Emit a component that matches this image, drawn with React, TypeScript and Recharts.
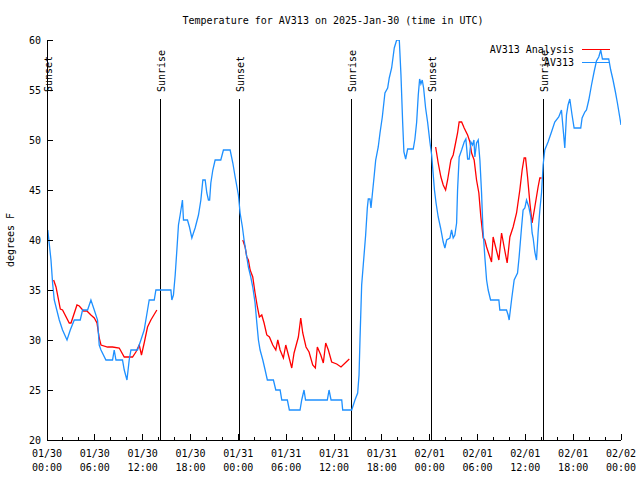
import React from "react";
import { LineChart, Line, XAxis, YAxis, ReferenceLine } from "recharts";

// observed temperature (AV313), hours since 01/30 00:00 UTC
const obsHours = [
  0, 0.1, 0.5, 0.7, 0.91, 1.54, 1.95, 2.51, 2.92, 3.42, 4.17, 4.46, 5.09, 5.51, 5.93, 6.34, 6.55, 6.77,
  7.39, 8.22, 8.43, 8.65, 9.47, 9.69, 10.03, 10.31, 10.53, 11.35, 11.78, 12.19, 12.61, 12.82, 13.45, 13.66,
  15.54, 15.66, 15.86, 16.08, 16.29, 16.49, 16.7, 16.99, 17.12, 17.62, 17.87, 18.17, 18.37, 18.58, 19, 19.3,
  19.55, 19.84, 20.05, 20.25, 20.4, 20.55, 20.8, 21.09, 21.8, 22.13, 22.97, 23.31, 23.6, 24.01, 24.22, 24.51,
  24.72, 25.06, 25.26, 25.56, 25.81, 26.1, 26.32, 26.52, 26.73, 27.07, 27.36, 27.64, 28.4, 28.7, 29.24, 29.45,
  30.15, 30.4, 31.74, 31.95, 32.24, 32.43, 35.16, 35.38, 35.63, 36.97, 37.09, 38.22, 38.51, 38.63, 38.97, 39.14,
  39.26, 39.47, 39.67, 39.97, 40.18, 40.3, 40.51, 40.64, 40.8, 41.05, 41.23, 41.55, 41.77, 42.06, 42.39, 42.73,
  42.93, 43.23, 43.56, 43.86, 44.19, 44.4, 44.61, 44.77, 44.99, 45.24, 45.94, 46.15, 46.37, 46.57, 46.74, 46.9,
  47.07, 47.24, 47.49, 47.74, 48.03, 48.25, 48.45, 48.6, 48.8, 49.07, 49.37, 49.7, 49.91, 50.13, 50.54, 50.75,
  50.95, 51.16, 51.38, 51.5, 51.7, 52.01, 52.33, 52.54, 52.76, 52.96, 53.17, 53.38, 53.55, 53.67, 53.88, 54.09,
  54.3, 54.51, 54.67, 54.92, 55.14, 55.34, 55.64, 56.68, 56.8, 57.64, 57.84, 57.97, 58.27, 58.6, 59.02, 59.22,
  59.52, 59.72, 59.94, 60.15, 60.44, 60.69, 60.85, 60.98, 61.19, 61.4, 61.6, 61.82, 62.03, 62.23, 62.44, 62.85,
  63.28, 63.69, 64.19, 64.53, 64.73, 64.95, 65.16, 65.36, 65.58, 65.86, 66.12, 66.95, 67.12, 67.46, 67.67, 67.96,
  68.3, 68.62, 68.92, 69.21, 69.46, 69.67, 70.46, 70.71, 71, 71.3, 71.55, 71.84, 72,
];
const obsTemps = [
  40.5, 41, 38, 35.7, 34, 32, 31, 30, 31, 32, 32, 33, 33, 34, 33, 32, 29.5, 29,
  28, 28, 29, 28, 28, 27, 26, 28, 29, 29, 30, 31, 33, 34, 34, 35,
  35, 34, 34.5, 36.5, 39, 41.5, 42.5, 44, 42, 42, 41.3, 40.2, 40.7, 41.2, 42.5, 44,
  46, 46, 44.7, 44, 44, 45.7, 47, 48, 48, 49, 49, 47.7, 46.3, 44.5, 42.7, 41.3,
  40, 38.3, 37.3, 36.3, 35.3, 33.7, 31.7, 30, 29, 28, 27, 26, 26, 25, 25, 24,
  24, 23, 23, 24, 25, 24, 24, 25, 24, 24, 23, 23, 23.7, 24, 24.7, 26.5,
  30, 35.5, 37.5, 40.5, 43.2, 44.1, 44.1, 43.2, 44.5, 46.5, 48, 49.3, 50.7, 52.3, 54.7, 55.2,
  56.2, 57.2, 59.2, 60, 60, 56.5, 51.8, 48.8, 48.1, 49.1, 49.1, 50.1, 51.8, 54.5, 56.1, 55.6,
  56, 55.2, 53.2, 51.8, 49.8, 48.5, 46.5, 45, 43.7, 42.3, 41.2, 39.8, 39.2, 40, 40.2, 41,
  40.2, 40.5, 41.7, 45, 48.3, 49, 49.8, 50.1, 48.1, 48.1, 49.8, 49.5, 50, 48.3, 49.7, 50,
  48, 44.7, 41.3, 38.3, 36, 35, 34, 34, 33, 33, 32.5, 32, 34, 36, 36.7, 38.3,
  41.2, 43, 43.2, 44, 43.3, 42.3, 40.7, 40.2, 38.8, 38, 40.7, 43, 44.7, 47.5, 49, 49.8,
  50.8, 51.8, 52.3, 53, 51.2, 49.2, 52.5, 53.5, 54.1, 52.5, 51.2, 51.2, 52.2, 52.8, 53, 54,
  55.5, 56.8, 57.9, 58.3, 59, 58.1, 58.1, 57, 56, 54.8, 53.7, 52.3, 51.5,
];

// analysis temperature (AV313 Analysis), null = no analysis
const anaHours = [
  0.83, 1.13, 1.67, 1.95, 2.79, 3.01, 3.76, 4.05, 4.59, 5.01, 5.51, 5.93, 6.27, 6.55, 6.77, 7.59, 8.22, 9.06,
  9.69, 10.73, 11.15, 11.57, 11.85, 12.19, 12.61, 13.03, 13.78, 14,
  24.56, 24.85, 25.06, 25.26, 25.48, 25.81, 26.1, 26.39, 26.64, 26.94, 27.23, 27.57, 27.9, 28.32, 28.7, 28.95,
  29.24, 29.65, 29.95, 30.28, 30.7, 30.99, 31.53, 31.83, 32.08, 32.49, 32.87, 33.33, 33.66, 33.91, 34.34, 34.66,
  34.96, 35.29, 35.71, 36.34, 36.88, 37.92, 38.5,
  48.75, 49.07, 49.41, 49.7, 50, 50.25, 50.66, 50.95, 51.25, 51.5, 51.7, 52.01, 52.33, 52.76, 53.05, 53.26,
  53.58, 53.88, 54.17, 54.42, 54.71, 54.92, 55.14, 55.55, 55.76, 55.96, 56.27, 56.68, 57.02, 57.34, 57.72, 58.06,
  58.47, 58.9, 59.31, 59.6, 59.85, 60.03, 60.28, 60.57, 60.85, 61.19, 61.6, 61.82, 62.03,
];
const anaTemps = [
  36, 35.3, 33.1, 33, 31.7, 31.7, 33.5, 33.4, 32.9, 32.9, 32.5, 32.2, 31.7, 30.2, 29.5, 29.3, 29.3, 29.2,
  28.3, 28.3, 28.8, 29.5, 28.5, 29.7, 31.3, 32, 33, null,
  40, 39.3, 38.3, 38, 37, 36.3, 34.7, 33.3, 32.3, 32.5, 31.7, 30.5, 30.3, 29.5, 29, 30,
  29, 28.2, 29.5, 28.5, 27.2, 28.7, 30.3, 32.2, 30.7, 29.3, 28.8, 27.5, 27.2, 29.3, 28.5, 27.7,
  29.7, 29, 27.8, 27.6, 27.3, 28.1, null,
  49.3, 47.7, 46.3, 45.5, 45, 46, 48, 48.5, 49.7, 50.7, 51.8, 51.8, 51.2, 50.5, 49.8, 48.7,
  48, 46, 44.7, 42.3, 40.2, 40, 39.3, 38.3, 37.8, 40.3, 39.3, 38, 40.7, 39.3, 37.7, 40.3,
  41.3, 42.7, 45, 47, 48.2, 48.2, 46.3, 43.7, 41.7, 43.3, 45.3, 46.2, 46.2,
];

const sunsetHours = [0.05, 24.13, 48.2];
const sunriseHours = [14.23, 38.17, 62.23];

const xTicks = [
  0, 2, 4, 6, 8, 10, 12, 14, 16, 18, 20, 22, 24, 26, 28, 30, 32, 34, 36,
  38, 40, 42, 44, 46, 48, 50, 52, 54, 56, 58, 60, 62, 64, 66, 68, 70, 72,
];
const dateLabels = ["01/30", "01/30", "01/30", "01/30", "01/31", "01/31", "01/31", "01/31", "02/01", "02/01", "02/01", "02/01", "02/02"];
const timeLabels = ["00:00", "06:00", "12:00", "18:00", "00:00", "06:00", "12:00", "18:00", "00:00", "06:00", "12:00", "18:00", "00:00"];
const yTicks = [20, 25, 30, 35, 40, 45, 50, 55, 60];

const FONT = '"DejaVu Sans Mono", "Liberation Mono", monospace';
const RED = "#ff0000";
const BLUE = "#1e90ff";

const obsData = obsHours.map((t, i) => ({ t, v: obsTemps[i] }));
const anaData = anaHours.map((t, i) => ({ t, v: anaTemps[i] }));

const series = [
  { name: "AV313 Analysis", color: RED, data: anaData },
  { name: "AV313", color: BLUE, data: obsData },
];

function BottomTick(props: any) {
  const { x, y, payload } = props;
  const h = payload.value;
  const major = h % 6 === 0;
  const i = h / 6;
  return (
    <g>
      <line x1={x} y1={y} x2={x} y2={y - (major ? 6 : 3)} stroke="#000" />
      {major && (
        <text textAnchor="middle" fontFamily={FONT} fontSize={10} fill="#000">
          <tspan x={x} y={y + 17}>{dateLabels[i]}</tspan>
          <tspan x={x} y={y + 31}>{timeLabels[i]}</tspan>
        </text>
      )}
    </g>
  );
}

function TopTick(props: any) {
  const { x, y, payload } = props;
  const major = payload.value % 6 === 0;
  return <line x1={x} y1={y} x2={x} y2={y + (major ? 6 : 3)} stroke="#000" />;
}

function LeftTick(props: any) {
  const { x, y, payload } = props;
  return (
    <g>
      <line x1={x} y1={y} x2={x + 6} y2={y} stroke="#000" />
      <text x={x - 6} y={y + 3.6} textAnchor="end" fontFamily={FONT} fontSize={10} fill="#000">
        {payload.value}
      </text>
    </g>
  );
}

function RightTick(props: any) {
  const { x, y } = props;
  return <line x1={x} y1={y} x2={x - 6} y2={y} stroke="#000" />;
}

function sunLabel(text: string) {
  return (p: any) => {
    const vb = p.viewBox || {};
    const lx = vb.x + 4.5;
    const ly = vb.y - 7;
    return (
      <text x={lx} y={ly} transform={`rotate(-90 ${lx} ${ly})`} fontFamily={FONT} fontSize={10} fill="#000">
        {text}
      </text>
    );
  };
}

export default function App() {
  return (
    <div className="gp" style={{ position: "absolute", left: 0, top: 0, width: 640, height: 480, background: "#fff" }}>
      <style>{`.gp svg line { shape-rendering: crispEdges; }`}</style>
      <LineChart width={640} height={480} margin={{ top: 40, right: 19, bottom: 0, left: 0 }}>
        <XAxis
          dataKey="t"
          type="number"
          domain={[0, 72]}
          ticks={xTicks}
          interval={0}
          height={40}
          tickSize={0}
          tickMargin={0}
          tick={BottomTick}
          axisLine={{ stroke: "#000" }}
          allowDataOverflow
        />
        <XAxis
          xAxisId="top"
          orientation="top"
          dataKey="t"
          type="number"
          domain={[0, 72]}
          ticks={xTicks}
          interval={0}
          height={0}
          tickSize={0}
          tickMargin={0}
          tick={TopTick}
          axisLine={{ stroke: "#000" }}
        />
        <YAxis
          type="number"
          domain={[20, 60]}
          ticks={yTicks}
          interval={0}
          width={47}
          tickSize={0}
          tickMargin={0}
          tick={LeftTick}
          axisLine={{ stroke: "#000" }}
          allowDataOverflow
        />
        <YAxis
          yAxisId="right"
          orientation="right"
          type="number"
          domain={[20, 60]}
          ticks={yTicks}
          interval={0}
          width={0}
          tickSize={0}
          tickMargin={0}
          tick={RightTick}
          axisLine={{ stroke: "#000" }}
        />

        {sunsetHours.map((h) => (
          <ReferenceLine key={`ss${h}`} segment={[{ x: h, y: 54.1 }, { x: h, y: 20 }]} stroke="#000" label={sunLabel("Sunset")} />
        ))}
        {sunriseHours.map((h) => (
          <ReferenceLine key={`sr${h}`} segment={[{ x: h, y: 54.1 }, { x: h, y: 20 }]} stroke="#000" label={sunLabel("Sunrise")} />
        ))}

        {series.map((s) => (
          <Line
            key={s.name}
            name={s.name}
            data={s.data}
            dataKey="v"
            type="linear"
            stroke={s.color}
            strokeWidth={1.3}
            dot={false}
            activeDot={false}
            connectNulls={false}
            isAnimationActive={false}
          />
        ))}
      </LineChart>

      <svg width={640} height={480} style={{ position: "absolute", left: 0, top: 0, pointerEvents: "none" }}>
        <text x={333} y={23.5} textAnchor="middle" fontFamily={FONT} fontSize={10} fill="#000">
          Temperature for AV313 on 2025-Jan-30 (time in UTC)
        </text>
        <text x={14} y={240} textAnchor="middle" transform="rotate(-90 14 240)" fontFamily={FONT} fontSize={10} fill="#000">
          degrees F
        </text>
        {series.map((s, i) => (
          <g key={s.name}>
            <text x={574} y={53 + i * 13} textAnchor="end" fontFamily={FONT} fontSize={10} fill="#000">
              {s.name}
            </text>
            <line x1={582} y1={49.5 + i * 13} x2={610} y2={49.5 + i * 13} stroke={s.color} strokeWidth={1.3} />
          </g>
        ))}
      </svg>
    </div>
  );
}
